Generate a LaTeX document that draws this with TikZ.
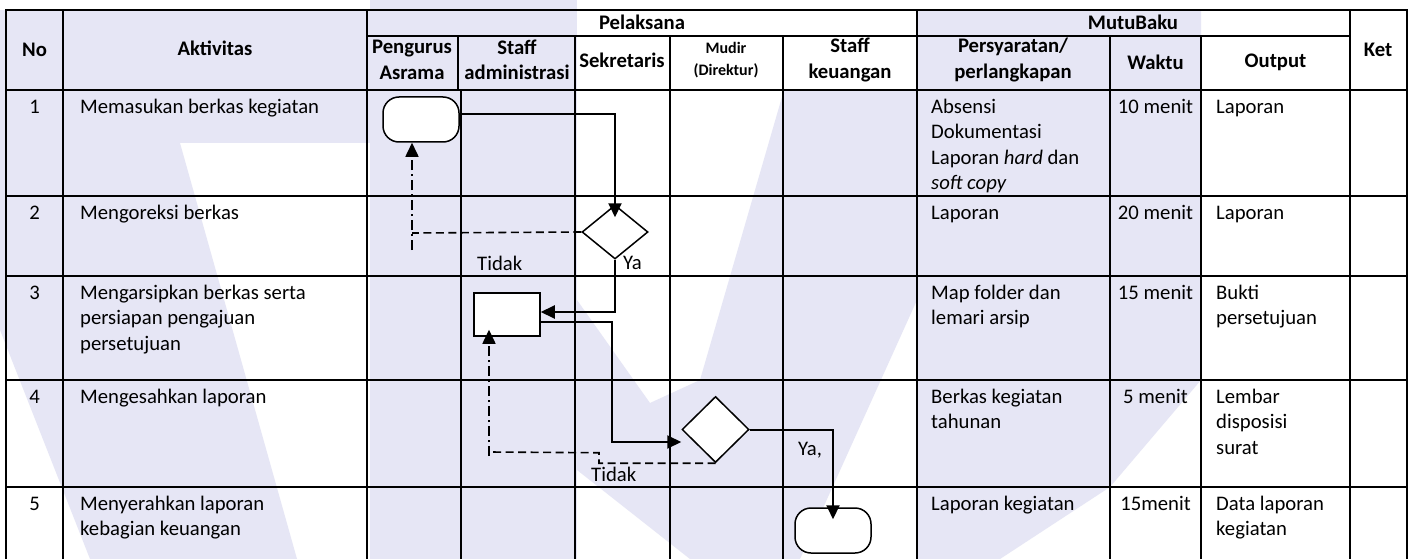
\documentclass[tikz,border=0pt]{standalone}
\usepackage{fontspec}
\setmainfont{Carlito}
\usetikzlibrary{arrows.meta,shapes.geometric}
\newcommand\cellfont{\fontsize{20.7}{25.5}\selectfont}
\newcommand\smallhdr{\fontsize{16}{22}\selectfont}
\definecolor{wmark}{RGB}{230,230,245}
\tikzset{
  grid/.style={line width=2pt, line cap=rect},
  cell/.style={font=\cellfont, align=left, anchor=north west, inner sep=0pt},
  ccell/.style={font=\cellfont, align=center, anchor=north, inner sep=0pt},
  hdr/.style={font=\cellfont\bfseries, align=center, inner sep=0pt},
  lbl/.style={font=\cellfont, anchor=west, inner sep=0pt},
  term/.style={draw, line width=1.5pt, fill=white, rounded corners=16pt, minimum width=76pt, minimum height=45pt, inner sep=0pt},
  proc/.style={draw, rectangle, line width=1.5pt, fill=white, minimum width=66pt, minimum height=43pt, inner sep=0pt},
  dec/.style={draw, diamond, fill=white, line width=1.5pt, inner sep=0pt},
  flow/.style={line width=2pt, -{Triangle[length=14pt,width=13pt]}},
  dsh/.style={line width=1.6pt, dash pattern=on 8pt off 4.5pt},
  dd/.style={line width=1.6pt, dash pattern=on 10pt off 4pt on 2pt off 4pt, -{Triangle[length=14pt,width=13pt]}},
  wm/.style={fill=wmark, draw=none},
}
\begin{document}
\begin{tikzpicture}[x=1pt,y=-1pt]
\useasboundingbox (0,0) rectangle (1413,559);
\fill[white] (0,0) rectangle (1413,559);
% ---------- faint watermark ----------
\fill[wm] (0,10) -- (370,10) -- (370,143) -- (0,143) -- cycle;
\fill[wm] (0,143) -- (180,143) -- (297,559) -- (90,559) -- (0,330) -- cycle;
\fill[wm] (370,0) -- (577,0) -- (577,559) -- (370,559) -- cycle;
\fill[wm] (577,300) -- (650,403) -- (700,380) -- (784,90) -- (917,90) -- (917,300) -- (800,559) -- (690,559) -- (577,470) -- cycle;
\fill[wm] (917,10) -- (1201,10) -- (1201,380) -- (1110,487) -- (1000,559) -- (917,559) -- cycle;
% ---------- grid ----------
\foreach \x in {6,63,367,917,1350,1407} \draw[grid] (\x,10) -- (\x,559);
\draw[grid] (458,36) -- (458,90);
\draw[grid] (461,90) -- (461,559);
\foreach \x in {575,670,783,1110,1201} \draw[grid] (\x,36) -- (\x,559);
\draw[grid] (6,10) -- (1407,10);
\draw[grid] (367,36) -- (1350,36);
\foreach \y in {90,196,276,380,487} \draw[grid] (6,\y) -- (1407,\y);
% ---------- header ----------
\node[hdr] (hNo) at (34.5,50) {No};
\node[hdr] (hAkt) at (215,48) {Aktivitas};
\node[hdr] (hPel) at (642,22) {Pelaksana};
\node[hdr] (hMutu) at (1133,22) {MutuBaku};
\node[hdr] (hKet) at (1378,50) {Ket};
\node[hdr] (hPA) at (412,60) {Pengurus\\Asrama};
\node[hdr] (hSA) at (517,60) {Staff\\administrasi};
\node[hdr] (hSek) at (622,60) {Sekretaris};
\node[hdr, font=\smallhdr\bfseries, align=center] (hMud) at (726,60) {Mudir\\(Direktur)};
\node[hdr] (hSK) at (850,60) {Staff\\keuangan};
\node[hdr] (hPer) at (1013,60) {Persyaratan/\\perlangkapan};
\node[hdr] (hWak) at (1155.5,62) {Waktu};
\node[hdr] (hOut) at (1275.5,62) {Output};
% ---------- rows (node top = strut top; first baseline = y + 17.85) ----------
\node[ccell] (n1) at (34.5,95) {\strut 1};
\node[ccell] (n2) at (34.5,201) {\strut 2};
\node[ccell] (n3) at (34.5,281) {\strut 3};
\node[ccell] (n4) at (34.5,385) {\strut 4};
\node[ccell] (n5) at (34.5,492) {\strut 5};
\node[cell] (a1) at (80,95) {\strut Memasukan berkas kegiatan};
\node[cell] (a2) at (80,201) {\strut Mengoreksi berkas};
\node[cell] (a3) at (80,281) {\strut Mengarsipkan berkas serta\\persiapan pengajuan\\persetujuan};
\node[cell] (a4) at (80,385) {\strut Mengesahkan laporan};
\node[cell] (a5) at (80,492) {\strut Menyerahkan laporan\\kebagian keuangan};
\node[cell] (p1) at (931,95) {\strut Absensi\\Dokumentasi\\Laporan \textit{hard} dan\\\textit{soft copy}};
\node[cell] (p2) at (931,201) {\strut Laporan};
\node[cell] (p3) at (931,281) {\strut Map folder dan\\lemari arsip};
\node[cell] (p4) at (931,385) {\strut Berkas kegiatan\\tahunan};
\node[cell] (p5) at (931,492) {\strut Laporan kegiatan};
\node[ccell] (w1) at (1155.5,95) {\strut 10 menit};
\node[ccell] (w2) at (1155.5,201) {\strut 20 menit};
\node[ccell] (w3) at (1155.5,281) {\strut 15 menit};
\node[ccell] (w4) at (1155.5,385) {\strut 5 menit};
\node[ccell] (w5) at (1155.5,492) {\strut 15menit};
\node[cell] (o1) at (1216,95) {\strut Laporan};
\node[cell] (o2) at (1216,201) {\strut Laporan};
\node[cell] (o3) at (1216,281) {\strut Bukti\\persetujuan};
\node[cell] (o4) at (1216,385) {\strut Lembar\\disposisi\\surat};
\node[cell] (o5) at (1216,492) {\strut Data laporan\\kegiatan};
% ---------- flow shapes ----------
\node[term] (t1) at (421,119.5) {};
\node[dec, minimum width=66pt, minimum height=54pt] (d1) at (615,232) {};
\node[proc] (r1) at (507,314.5) {};
\node[dec, minimum width=67pt, minimum height=66pt] (d2) at (715.5,429.5) {};
\node[term] (t2) at (833,530.5) {};
\coordinate (lp1) at (412,233);
\coordinate (lp2) at (489,452);
% ---------- connectors ----------
\draw[flow, shorten >=-13pt] ([yshift=5.5pt]t1.east) -| (d1.north);
\draw[flow] (d1.south) |- ([yshift=2.5pt]r1.east);
\draw[flow] ([yshift=-7.5pt]r1.east) -- ++(71,0) |- ([yshift=-12.5pt]d2.west);
\draw[flow, shorten >=-12pt] (d2.east) -| (t2.north);
\draw[dsh] (d1.west) -- (lp1);
\draw[dd] (lp1) ++(0,17) -- ([xshift=-9pt]t1.south);
\draw[dsh] (d2.south) -- ++(-116.5,0) -- ++(0,-10.5) -- (lp2);
\draw[dd, shorten >=-7pt] (lp2) ++(0,4) -- ([xshift=-18pt]r1.south);
% ---------- labels ----------
\node[lbl] (l1) at (477,263) {Tidak};
\node[lbl] (l2) at (623,263) {Ya};
\node[lbl] (l3) at (591,474) {Tidak};
\node[lbl] (l4) at (798,450) {Ya,};
\end{tikzpicture}
\end{document}
